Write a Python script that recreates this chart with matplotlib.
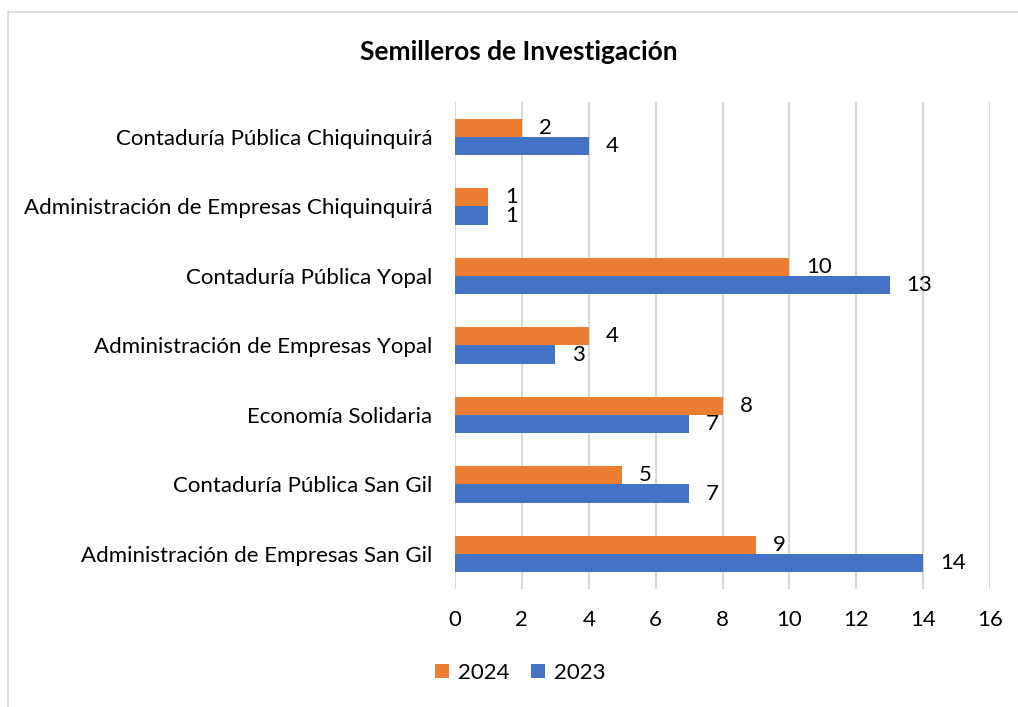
import numpy as np
import matplotlib
matplotlib.use('Agg')
import matplotlib.pyplot as plt
from matplotlib.lines import Line2D

plt.rcParams['font.family'] = ['Lato', 'DejaVu Sans']

# categories listed bottom to top
programas = [
    'Administración de Empresas San Gil',
    'Contaduría Pública San Gil',
    'Economía Solidaria',
    'Administración de Empresas Yopal',
    'Contaduría Pública Yopal',
    'Administración de Empresas Chiquinquirá',
    'Contaduría Pública Chiquinquirá',
]
v2024 = [9, 5, 8, 4, 10, 1, 2]
v2023 = [14, 7, 7, 3, 13, 1, 4]
xticks = [0, 2, 4, 6, 8, 10, 12, 14, 16]

orange = '#ED7D31'
blue = '#4472C4'
grid = '#d9d9d9'
fs = 16

fig = plt.figure(figsize=(10.18, 7.07), dpi=100)
ax = fig.add_axes([0.447, 0.1673, 0.5255, 0.6881])

y = np.arange(len(programas))
h = 0.26
b24 = ax.barh(y + h / 2, v2024, height=h, color=orange, label='2024', zorder=3)
b23 = ax.barh(y - h / 2, v2023, height=h, color=blue, label='2023', zorder=3)

for bars, vals in ((b24, v2024), (b23, v2023)):
    for bar, v in zip(bars, vals):
        ax.annotate(str(v), (v, bar.get_y() + bar.get_height() / 2),
                    xytext=(17, 0), textcoords='offset pixels',
                    ha='left', va='center', fontsize=fs, color='#000000')

ax.set_xlim(0, 16)
ax.set_ylim(-0.5, 6.5)
ax.set_xticks(xticks)
ax.set_yticks(y)
ax.set_yticklabels(programas)
ax.tick_params(axis='both', length=0, labelsize=fs, colors='#000000')
ax.tick_params(axis='x', pad=15)
ax.tick_params(axis='y', pad=16.5)
ax.grid(axis='x', color=grid, linewidth=1.5, zorder=0)
for s in ax.spines.values():
    s.set_visible(False)

fig.text(0.51, 0.927, 'Semilleros de Investigación', ha='center', va='center',
         fontsize=19, fontweight='bold')

fig.legend(handles=[b24, b23], labels=['2024', '2023'], loc='center',
           bbox_to_anchor=(0.511, 0.048), ncol=2, frameon=False, fontsize=fs,
           handlelength=0.6, handleheight=0.6, handletextpad=0.4, columnspacing=1.0)

# chart area border (top and left only visible)
fig.add_artist(Line2D([8 / 1018, 1], [1 - 12 / 707, 1 - 12 / 707], color=grid, lw=1.2))
fig.add_artist(Line2D([8 / 1018, 8 / 1018], [0, 1 - 12 / 707], color=grid, lw=1.2))

fig.savefig('out.png', dpi=100)
